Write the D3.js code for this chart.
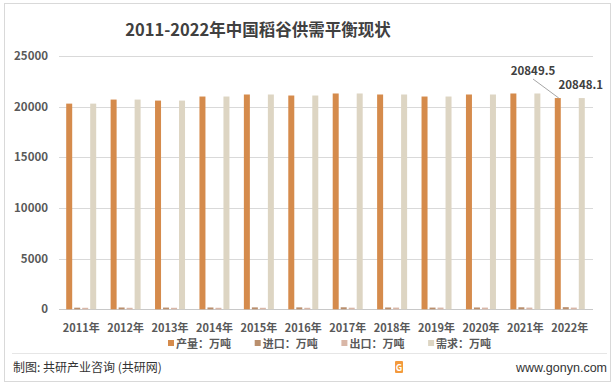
<!DOCTYPE html>
<html><head><meta charset="utf-8">
<script src="https://cdn.jsdelivr.net/npm/d3@7"></script>
<style>body{margin:0;background:#fff;}svg{display:block;font-family:"Noto Sans CJK SC","Noto Sans",sans-serif;}</style>
</head><body>
<script>
const years = ["2011年","2012年","2013年","2014年","2015年","2016年","2017年","2018年","2019年","2020年","2021年","2022年"];
const production = [20300,20700,20600,21000,21200,21100,21300,21200,21000,21200,21300,20849.5];
const imports = [160,180,170,180,190,190,200,180,170,180,200,210];
const exports = [150,150,150,150,150,150,160,170,170,170,170,170];
const demand = [20300,20700,20600,21000,21200,21100,21300,21200,21000,21200,21300,20848.1];
const seriesNames = ["产量：万吨","进口：万吨","出口：万吨","需求：万吨"];
const colors = ["#D58B4C","#BA8F6D","#D9B7A7","#DDD5C3"];
const yTicks = [0,5000,10000,15000,20000,25000];

const W=616,H=391;
const svg=d3.select("body").append("svg").attr("width",W).attr("height",H);
svg.append("rect").attr("x",4.5).attr("y",3.5).attr("width",606).attr("height",378).attr("fill","#fff").attr("stroke","#d9d9d9");

svg.append("text").attr("x",258).attr("y",36).attr("text-anchor","middle").attr("font-size",16.5).attr("font-weight","bold").attr("fill","#404040").text("2011-2022年中国稻谷供需平衡现状");

const x=d3.scaleBand().domain(years).range([59,592]);
const y=d3.scaleLinear().domain([0,25000]).range([309.3,56]);
const series=[production,imports,exports,demand];
const xs=d3.scaleBand().domain(d3.range(4)).range([7.2,37.2]).paddingInner(0.25);

const g=svg.append("g");
g.selectAll("line.grid").data(yTicks.slice(1)).join("line").attr("x1",59).attr("x2",593).attr("y1",d=>Math.round(y(d))+0.5).attr("y2",d=>Math.round(y(d))+0.5).attr("stroke","#d9d9d9");
g.append("line").attr("x1",59).attr("x2",593).attr("y1",309.5).attr("y2",309.5).attr("stroke","#c8c8c8");
g.selectAll("text.yt").data(yTicks).join("text").attr("x",48).attr("y",d=>y(d)+4).attr("text-anchor","end").attr("font-size",11.5).attr("font-weight","bold").attr("fill","#595959").text(d=>d);

series.forEach((s,i)=>{
  g.selectAll("rect.s"+i).data(s).join("rect").attr("x",(d,j)=>x(years[j])+xs(i)).attr("width",xs.bandwidth()).attr("y",d=>y(d)).attr("height",d=>y(0)-y(d)).attr("fill",colors[i]);
});

g.selectAll("text.xt").data(years).join("text").attr("x",d=>x(d)+x.bandwidth()/2).attr("y",331.5).attr("text-anchor","middle").attr("font-size",11).attr("font-weight","bold").attr("fill","#595959").text(d=>d);

// annotations
const last=years.length-1;
const px=x(years[last])+xs(0)+xs.bandwidth()/2, dx=x(years[last])+xs(3)+xs.bandwidth()/2;
svg.append("line").attr("x1",533).attr("y1",79).attr("x2",px+1).attr("y2",y(production[last])).attr("stroke","#a6a6a6");
svg.append("text").attr("x",533).attr("y",75).attr("text-anchor","middle").attr("font-size",11.5).attr("font-weight","bold").attr("fill","#404040").text(production[last]);
svg.append("text").attr("x",dx-1).attr("y",89).attr("text-anchor","middle").attr("font-size",11.5).attr("font-weight","bold").attr("fill","#404040").text(demand[last]);

// legend
const lg=svg.append("g");
seriesNames.forEach((n,i)=>{
  const lx=168+i*86.7;
  lg.append("rect").attr("x",lx).attr("y",340).attr("width",6).attr("height",6).attr("fill",colors[i]);
  lg.append("text").attr("x",lx+8).attr("y",348).attr("font-size",11).attr("font-weight","bold").attr("fill","#595959").text(n);
});

svg.append("line").attr("x1",12).attr("x2",607).attr("y1",353.5).attr("y2",353.5).attr("stroke","#e6e6e6");
svg.append("text").attr("x",13).attr("y",372).attr("font-size",12).attr("fill","#333").text("制图: 共研产业咨询 (共研网)");
svg.append("rect").attr("x",395).attr("y",361).attr("width",8).attr("height",12).attr("rx",1).attr("fill","#F39A3C");
svg.append("text").attr("x",399).attr("y",370.5).attr("text-anchor","middle").attr("font-size",9).attr("font-weight","bold").attr("fill","#fff").text("G");
svg.append("text").attr("x",607).attr("y",372).attr("text-anchor","end").attr("font-size",12.5).attr("fill","#333").attr("font-family","Liberation Sans, Arial, sans-serif").text("www.gonyn.com");
</script>
</body></html>
